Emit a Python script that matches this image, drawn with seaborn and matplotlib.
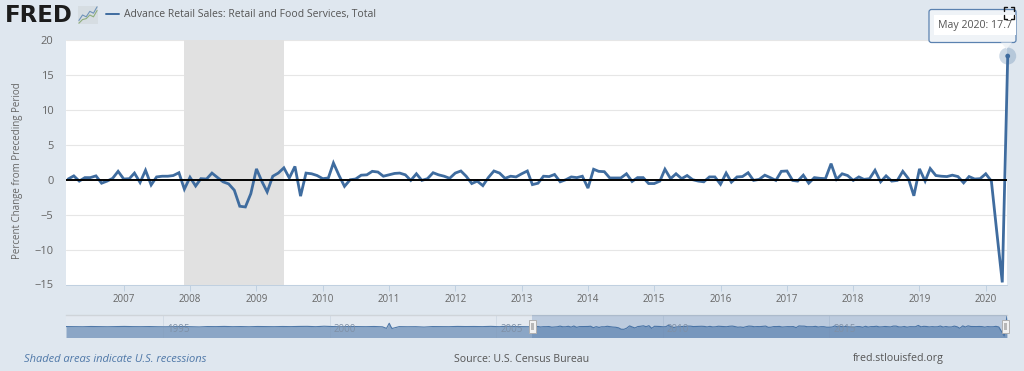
import pandas as pd
from matplotlib import pyplot as plt
import matplotlib.dates as mdates
from matplotlib.patches import Circle, FancyBboxPatch, Polygon, Rectangle
from matplotlib.lines import Line2D
import seaborn as sns

# monthly percent change, Mar 2006 - May 2020
pct_change = [
    0.1, 0.55, -0.2, 0.3, 0.3, 0.55, -0.5, -0.2, 0.2, 1.2,
    0.1, 0.15, 0.95, -0.4, 1.35, -0.75, 0.4, 0.5, 0.5, 0.6, 1.0, -1.35,
    0.35, -0.9, 0.15, 0.1, 0.95, 0.3, -0.3, -0.6, -1.5, -3.8, -3.9, -2.0,
    1.55, -0.3, -1.75, 0.5, 0.95, 1.7, 0.25, 1.9, -2.35, 0.95, 0.85, 0.6,
    0.15, 0.25, 2.4, 0.6, -0.95, 0.0, 0.1, 0.65, 0.7, 1.2, 1.1, 0.5,
    0.7, 0.9, 0.95, 0.7, -0.1, 0.85, -0.1, 0.15, 1.0, 0.7, 0.5, 0.2,
    0.95, 1.25, 0.5, -0.55, -0.2, -0.85, 0.3, 1.25, 0.95, 0.2, 0.5, 0.4,
    0.85, 1.25, -0.7, -0.5, 0.5, 0.45, 0.75, -0.3, 0.0, 0.4, 0.3, 0.5,
    -1.2, 1.5, 1.2, 1.15, 0.25, 0.25, 0.25, 0.85, -0.25, 0.3, 0.3, -0.55,
    -0.55, -0.2, 1.5, 0.15, 0.85, 0.15, 0.6, 0.0, -0.2, -0.3, 0.4, 0.4,
    -0.65, 0.95, -0.35, 0.4, 0.45, 1.0, -0.1, 0.05, 0.65, 0.3, -0.1, 1.2,
    1.25, -0.1, -0.2, 0.65, -0.5, 0.3, 0.2, 0.15, 2.3, 0.05, 0.85, 0.6,
    -0.1, 0.4, 0.05, 0.15, 1.35, -0.3, 0.55, -0.2, -0.1, 1.2, 0.15, -2.3,
    1.55, -0.2, 1.6, 0.6, 0.5, 0.45, 0.65, 0.45, -0.45, 0.45, 0.1, 0.15,
    0.85, -0.2, -7.3, -14.7, 17.7,
]
# overview strip before the main window, one reading per quarter
nav_early = [
    0.5, 0.3, 0.2, 0.6, 0.4, 0.2, 0.5, 0.7, 0.4, 0.3, 0.5, 0.2, 0.1, 0.4,
    0.6, 0.3, -0.1, 0.5, 0.4, 0.7, 0.3, 0.5, 0.2, 0.6, 0.5, 0.3, 0.6, 0.4,
    0.7, 0.8, 0.3, 1.0, 0.5, 0.2, 0.6, 0.4, 0.3, 0.6, 0.1, 0.5, 0.4, 0.2,
    0.3, -0.3, 0.5, 0.4, 0.3, 0.7, 0.5, 0.6, 0.4, 0.8, 0.3, 0.9, 0.5, 0.4,
]
nav_spike_dates = ["2001-09-15", "2001-10-15", "2001-11-15"]
nav_spike_values = [-2.4, 5.8, -2.6]
year_ticks = [str(y) for y in range(2007, 2021)]
y_ticks = [-15, -10, -5, 0, 5, 10, 15, 20]
nav_years = ["1995", "2000", "2005", "2010", "2015"]
icon_blue = [1.0, 2.2, 1.8, 3.0, 2.6, 4.0]
icon_green = [0.4, 1.2, 1.4, 2.2, 1.8, 3.2]

BG = "#dfe7ef"
BLUE = "#3f6c9f"
TEXT = "#666666"

sns.set_theme(style="white")
plt.rcParams['font.family'] = ['Open Sans', 'DejaVu Sans']

W, H = 1024, 371
def fx(x):
    return x / W
def fy(y):
    return 1 - y / H
def box(x0, y0, x1, y1):
    return [fx(x0), fy(y1), (x1 - x0) / W, (y1 - y0) / H]

dates = pd.date_range("2006-03-01", periods=len(pct_change), freq="MS")
df = pd.DataFrame({"date": dates, "pct": pct_change})

fig = plt.figure(figsize=(10.24, 3.71), dpi=100, facecolor=BG)

# main chart
ax = fig.add_axes(box(66, 40, 1007, 284.5))
ax.set_facecolor("white")
ax.grid(False)
ax.set_axisbelow(True)
for v in y_ticks:
    ax.axhline(v, color="#e6e6e6", lw=0.8, zorder=1)
ax.axvspan(pd.Timestamp("2007-12-01"), pd.Timestamp("2009-06-01"), color="#e1e1e1", lw=0, zorder=2)
sns.lineplot(df, x="date", y="pct", color=BLUE, lw=2.0, ax=ax, zorder=3, solid_joinstyle="miter", clip_on=False)
ax.axhline(0, color="black", lw=1.4, zorder=4)
ax.set_xlim(pd.Timestamp("2006-02-17"), pd.Timestamp("2020-04-27"))
ax.set_ylim(-15, 20)
ax.set_yticks(y_ticks)
ax.set_xticks([pd.Timestamp(y + "-01-01") for y in year_ticks])
ax.set_xticklabels(year_ticks)
ax.tick_params(axis="y", length=0, pad=9, labelsize=8, labelcolor=TEXT)
ax.tick_params(axis="x", length=4, width=0.7, color="#c0d0e0", pad=3, labelsize=7, labelcolor=TEXT, bottom=True)
ax.set_xlabel("")
ax.set_ylabel("")
for s in ["top", "left", "right"]:
    ax.spines[s].set_visible(False)
ax.spines["bottom"].set_color("#c0d0e0")
ax.spines["bottom"].set_linewidth(0.7)
fig.text(fx(18), fy(171), "Percent Change from Preceding Period", rotation=90, ha="center", va="center",
         fontsize=7, color=TEXT)

# overview strip
nav = fig.add_axes(box(66, 315, 1007, 337.5))
nav.set_facecolor("#e3e9f0")
nav_df = pd.concat([
    pd.DataFrame({"date": pd.date_range("1992-02-01", periods=len(nav_early), freq="3MS"), "pct": nav_early}),
    pd.DataFrame({"date": pd.to_datetime(nav_spike_dates), "pct": nav_spike_values}),
    df,
]).sort_values("date")
nav.fill_between(nav_df["date"], nav_df["pct"], -17, color="#8ba6c6", lw=0, zorder=1)
sns.lineplot(nav_df, x="date", y="pct", color="#4f78a8", lw=0.8, ax=nav, zorder=2)
nav.axvspan(pd.Timestamp("2006-02-01"), pd.Timestamp("2020-05-01"), color="#33639f", alpha=0.22, lw=0, zorder=3)
nav.set_xlim(pd.Timestamp("1992-02-01"), pd.Timestamp("2020-05-01"))
nav.set_ylim(-17, 19)
nav.set_xticks([])
nav.set_yticks([])
nav.set_xlabel("")
nav.set_ylabel("")
for s in nav.spines.values():
    s.set_visible(False)
nav.spines["top"].set_visible(True)
nav.spines["top"].set_color("#cfd4d9")
nav.spines["top"].set_linewidth(1.0)
for y in nav_years:
    d = pd.Timestamp(y + "-01-01")
    nav.axvline(d, color="#8096b0", lw=0.4, alpha=0.3, zorder=2)
    nav.annotate(y, (d, 0), xycoords=("data", "axes fraction"), xytext=(11, 5.5), textcoords="offset points",
                 ha="center", va="center", fontsize=7, color="#7f90a6", zorder=4)
for d in ["2006-02-01", "2020-04-15"]:
    hx = nav.transData.transform((mdates.date2num(pd.Timestamp(d)), 0))[0]
    fig.add_artist(Rectangle((hx / W - 3.5 / W, fy(333)), 7 / W, 13 / H, transform=fig.transFigure,
                             fc="#f2f2f2", ec="#b0b0b0", lw=0.7, zorder=6))
    fig.add_artist(Rectangle((hx / W - 1.5 / W, fy(330)), 3 / W, 7 / H, transform=fig.transFigure,
                             fc="#b8b8b8", ec="none", zorder=7))

# logo and legend
fig.text(fx(5), fy(15.5), "FRED", fontsize=16.5, fontweight="bold", color="#1c1c1c", va="center", ha="left",
         family=["DejaVu Sans"])
icon = fig.add_axes(box(78, 6, 98, 24))
icon.set_facecolor("#d6dde2")
icon.plot(icon_blue, color="#6f93b8", lw=0.8)
icon.plot(icon_green, color="#8fae7c", lw=0.8)
icon.set_xticks([])
icon.set_yticks([])
for s in icon.spines.values():
    s.set_visible(False)
fig.add_artist(Line2D([fx(106), fx(119)], [fy(14), fy(14)], color=BLUE, lw=1.4))
fig.text(fx(124.5), fy(14.5), "Advance Retail Sales: Retail and Food Services, Total", fontsize=7.5,
         color="#555555", va="center", ha="left")

# footer
fig.text(fx(24), fy(359), "Shaded areas indicate U.S. recessions", fontsize=8.0, style="italic",
         color="#4f78a8", va="center", ha="left")
fig.text(fx(454), fy(359), "Source: U.S. Census Bureau", fontsize=7.6, color="#555555", va="center", ha="left")
fig.text(fx(853), fy(359), "fred.stlouisfed.org", fontsize=7.7, color="#555555", va="center", ha="left")

# hovered point and tooltip
cx, cy = ax.transData.transform((mdates.date2num(df["date"].iloc[-1]), df["pct"].iloc[-1]))
fig.add_artist(Circle((cx, cy), 8.5, transform=None, fc=BLUE, alpha=0.25, ec="none", zorder=8))
fig.add_artist(Circle((cx, cy), 2.4, transform=None, fc=BLUE, ec="none", zorder=9))
fig.add_artist(FancyBboxPatch((929, H - 42.5), 87, 33, boxstyle="round,pad=0,rounding_size=2.5", transform=None,
                              fc="#eff3f7", ec="#5b82b0", lw=0.9, zorder=10))
fig.add_artist(Polygon([(1001, H - 42.5), (1012, H - 42.5), (1006.5, H - 49)], transform=None,
                       fc="#eff3f7", ec="none", zorder=11))
fig.add_artist(Rectangle((934, H - 35), 82, 20, transform=None, fc="white", ec="none", zorder=11))
fig.text(fx(938.5), fy(25.5), "May 2020: 17.7", fontsize=7.7, color="#555555", va="center", ha="left", zorder=12)

# fullscreen corners
for xs, ys in [((1004, 1004, 1007), (11, 7, 7)), ((1011, 1014, 1014), (7, 7, 11)),
               ((1004, 1004, 1007), (15, 19, 19)), ((1011, 1014, 1014), (19, 19, 15))]:
    fig.add_artist(Line2D([fx(v) for v in xs], [fy(v) for v in ys], color="#111111", lw=1.0, zorder=13))

fig.savefig("out.png", dpi=100, facecolor=BG)
